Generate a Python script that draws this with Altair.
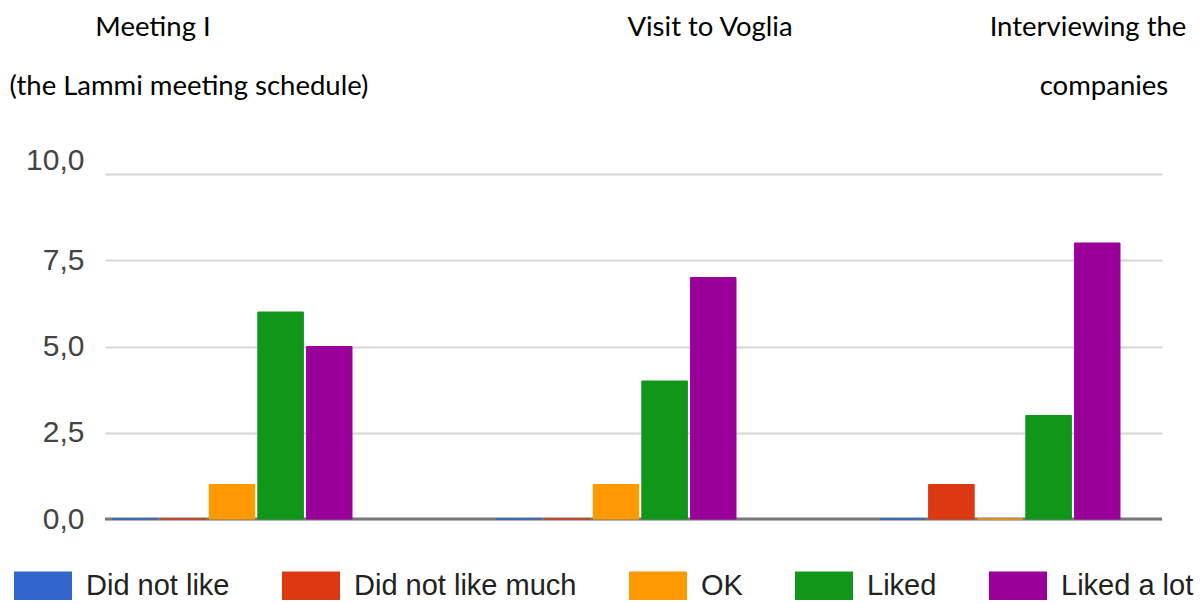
import altair as alt
import pandas as pd

# ---- data ----
groups = ["Meeting I (the Lammi meeting schedule)", "Visit to Voglia", "Interviewing the companies"]
group_lines = [["Meeting I", "(the Lammi meeting schedule)"], ["Visit to Voglia"], ["Interviewing the", "companies"]]
series = ["Did not like", "Did not like much", "OK", "Liked", "Liked a lot"]
did_not_like = [0, 0, 0]
did_not_like_much = [0, 0, 1]
ok = [1, 1, 0]
liked = [6, 4, 3]
liked_a_lot = [5, 7, 8]
y_ticks = [0, 2.5, 5, 7.5, 10]

# ---- styles / layout ----
colors = ["#3366CC", "#DC3912", "#FF9900", "#109618", "#990099"]
title_pos = [[(48, -146), (84, -87)], [(605, -146)], [(983, -146), (999, -87)]]

values = [did_not_like, did_not_like_much, ok, liked, liked_a_lot]
rows = []
for s, vals in zip(series, values):
    for g, v in zip(groups, vals):
        rows.append({"group": g, "series": s, "value": v})
df = pd.DataFrame(rows)

y_axis = alt.Axis(
    values=y_ticks, title=None, domain=False, ticks=False,
    labelFontSize=30, labelFont="Liberation Sans", labelColor="#444444",
    labelPadding=21, gridColor="#d6d6d6", gridWidth=2,
    labelExpr="replace(format(datum.value, '.1f'), '.', ',')",
    labelOffset={"condition": {"test": "datum.value == 10", "value": -14}, "value": 0},
)
y_scale = alt.Scale(domain=[0, 10], nice=False)

baseline = alt.Chart(pd.DataFrame({"v": [0]})).mark_rule(color="#777777", strokeWidth=3).encode(
    y=alt.Y("v:Q", scale=y_scale, axis=y_axis)
)

bars = alt.Chart(df).mark_bar(strokeWidth=1).encode(
    x=alt.X("group:N", sort=groups, axis=None,
            scale=alt.Scale(paddingInner=0.375, paddingOuter=0.0638, align=0.143)),
    xOffset=alt.XOffset("series:N", sort=series,
                        scale=alt.Scale(paddingInner=0.0625, paddingOuter=0)),
    y=alt.Y("value:Q", scale=y_scale, axis=y_axis),
    color=alt.Color("series:N", sort=series,
                    scale=alt.Scale(domain=series, range=colors),
                    legend=alt.Legend(
                        title=None, orient="none", legendX=-91, legendY=383,
                        direction="horizontal",
                        symbolType="M-1,-0.5H1V0.5H-1Z", symbolSize=3364,
                        symbolStrokeWidth=0, symbolOpacity=1,
                        labelFontSize=29, labelFont="Liberation Sans",
                        labelColor="#222222", labelOffset=14, labelLimit=400,
                        columnPadding=52,
                    )),
    stroke=alt.Stroke("series:N", sort=series,
                      scale=alt.Scale(domain=series, range=colors), legend=None),
)

texts = []
for lines, poss in zip(group_lines, title_pos):
    for line, (px, py) in zip(lines, poss):
        texts.append(
            alt.Chart(pd.DataFrame({"t": [line]})).mark_text(
                font="Lato", fontSize=27.5, color="#000000", align="center", baseline="middle"
            ).encode(text="t:N", x=alt.value(px), y=alt.value(py))
        )

chart = alt.layer(baseline, bars, *texts).properties(
    width=1057, height=345,
    autosize=alt.AutoSizeParams(type="none"),
    padding={"left": 97, "top": 166, "right": 32, "bottom": 81},
).configure_view(stroke=None)

chart.save("out.html", embed_options={"renderer": "svg", "actions": False})
